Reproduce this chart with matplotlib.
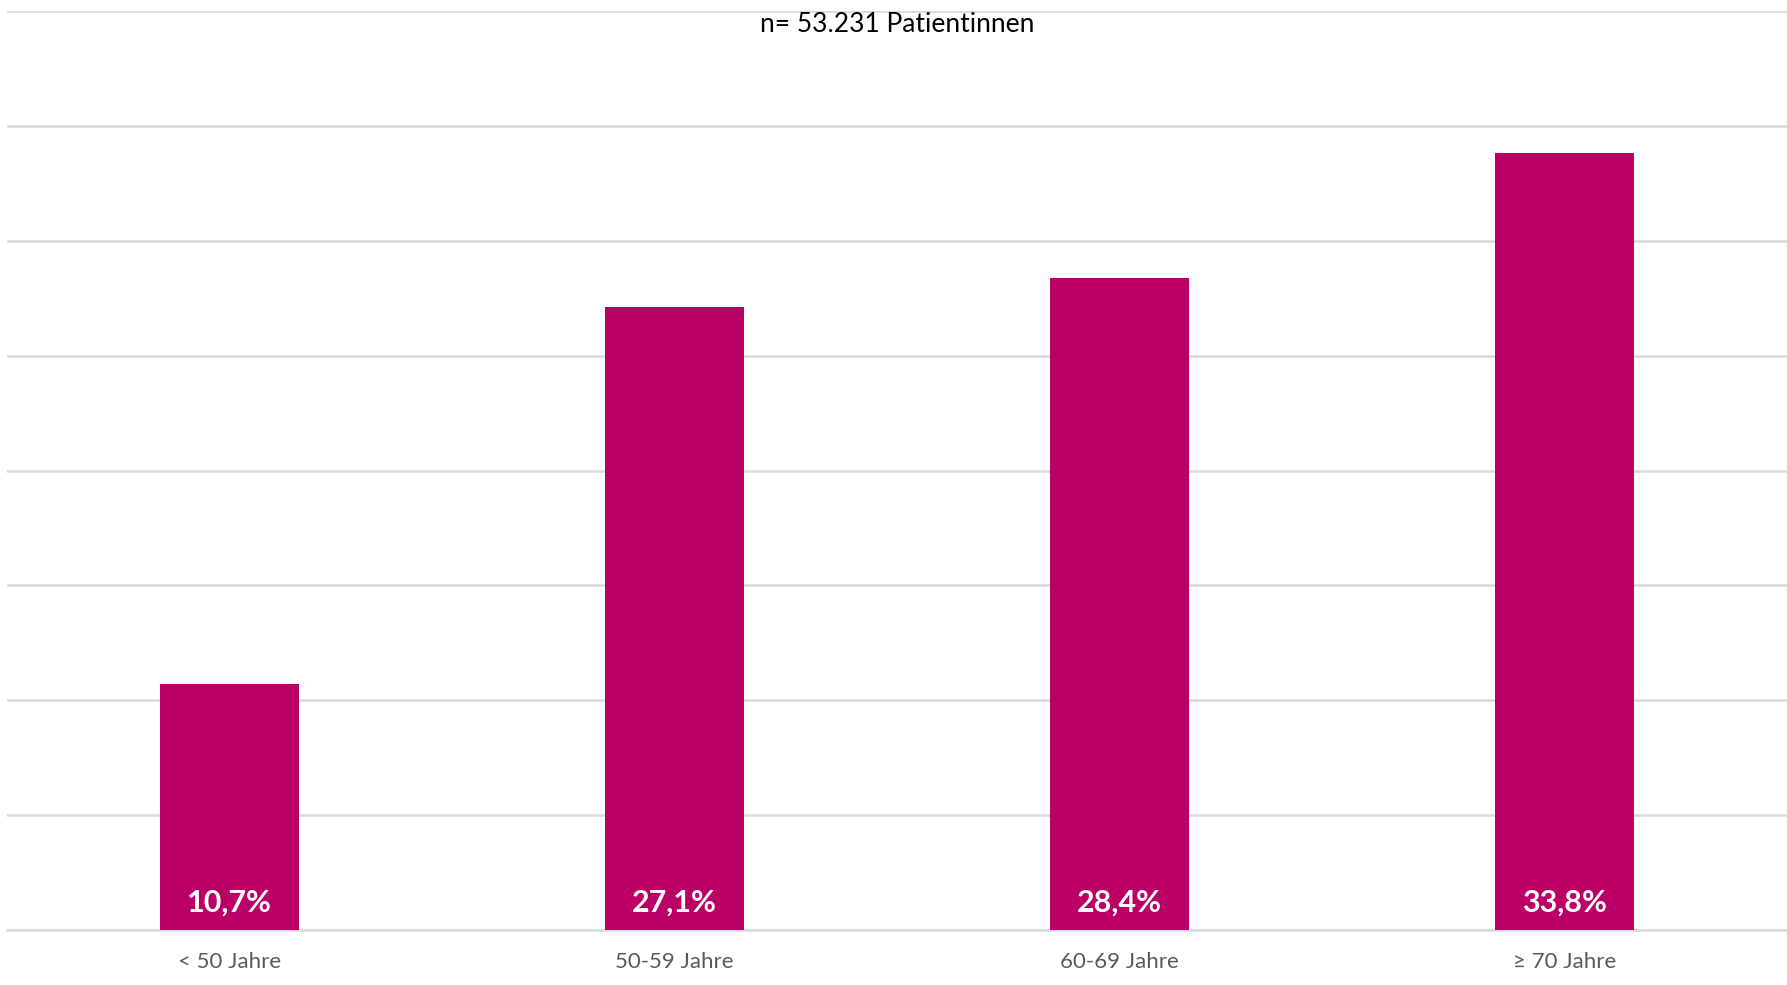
import matplotlib
matplotlib.use('Agg')
import matplotlib.pyplot as plt
import numpy as np


# data
categories = ['< 50 Jahre', '50-59 Jahre', '60-69 Jahre', '\u2265 70 Jahre']
shares = [10.7, 27.1, 28.4, 33.8]
labels = ['10,7%', '27,1%', '28,4%', '33,8%']
title = 'n= 53.231 Patientinnen'

bar_color = '#BA0066'
grid_color = '#D9D9D9'

plt.rcParams['font.family'] = ['Lato', 'DejaVu Sans']

fig = plt.figure(figsize=(17.87, 9.85), dpi=100)
ax = fig.add_axes([0.0039, 0.0558, 0.9961, 0.933])

x = np.arange(len(categories))
ax.bar(x, shares, width=0.312, color=bar_color, zorder=3)

for xi, lab in zip(x, labels):
	ax.text(xi, 1.2, lab, ha='center', va='center', color='white',
			fontsize=22, fontweight='bold', zorder=4)

ax.set_xlim(-0.5, 3.5)
ax.set_ylim(0, 40)
ax.set_yticks(np.arange(0, 41, 5))
ax.yaxis.grid(True, color=grid_color, linewidth=1.8, zorder=0)
ax.set_yticklabels([])
ax.tick_params(axis='y', length=0)

ax.set_xticks(x)
ax.set_xticklabels(categories, fontsize=16, color='#595959')
ax.tick_params(axis='x', length=0, pad=16)

for s in ['top', 'left', 'right']:
	ax.spines[s].set_visible(False)
ax.spines['bottom'].set_color(grid_color)
ax.spines['bottom'].set_linewidth(1.8)

fig.text(0.502, 0.975, title, ha='center', va='center', fontsize=19, color='black')

fig.savefig('out.png', dpi=100)
